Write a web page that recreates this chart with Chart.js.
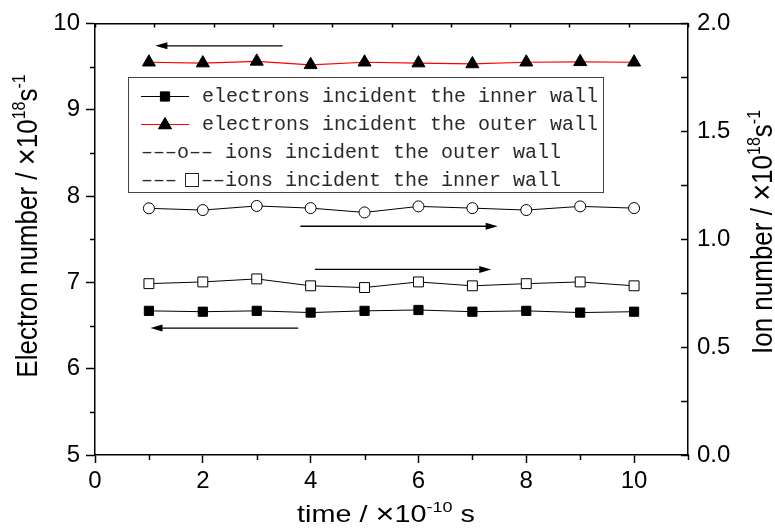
<!DOCTYPE html>
<html><head><meta charset="utf-8">
<script src="https://cdn.jsdelivr.net/npm/chart.js@4.4.1/dist/chart.umd.min.js"></script>
<style>html,body{margin:0;padding:0;background:#fff;}</style>
</head><body>
<canvas id="c" width="775" height="529"></canvas>
<script>
// ---- data ----
const time = [1, 2, 3, 4, 5, 6, 7, 8, 9, 10];
const electronsInner = [6.67, 6.66, 6.67, 6.65, 6.67, 6.68, 6.66, 6.67, 6.65, 6.66];   // left axis
const electronsOuter = [9.55, 9.54, 9.56, 9.52, 9.55, 9.54, 9.53, 9.55, 9.555, 9.55];  // left axis
const ionsOuter = [1.143, 1.135, 1.154, 1.144, 1.124, 1.152, 1.144, 1.135, 1.152, 1.144]; // right axis
const ionsInner = [0.794, 0.802, 0.816, 0.784, 0.776, 0.802, 0.784, 0.794, 0.802, 0.784]; // right axis
const xTickLabels = ['0', '2', '4', '6', '8', '10'];
const yTickLabels = ['5', '6', '7', '8', '9', '10'];
const y2TickLabels = ['0.0', '0.5', '1.0', '1.5', '2.0'];
const legendLabels = ['electrons incident the inner wall', 'electrons incident the outer wall',
                      'ions incident the outer wall', 'ions incident the inner wall'];
// annotation arrows (data units): tail x, head x, level on left axis
const arrowFrom = [3.48, 3.81, 4.08, 3.77];
const arrowTo = [1.12, 7.47, 7.35, 1.03];
const arrowLevel = [9.74, 7.65, 7.15, 6.47];

const FONT = '"Liberation Sans", Arial, sans-serif';
const MONO = '"Liberation Mono", "Courier New", monospace';

function drawRich(ctx, segs, x, y, align, size) {
  // segs: [text, kind] kind 0 normal, 1 superscript, 2 cross
  const fonts = [size + 'px ' + FONT, Math.round(size * 0.62) + 'px ' + FONT, Math.round(size * 1.12) + 'px ' + FONT];
  const offs = [0, -Math.round(size * 0.42), 1];
  let total = 0;
  segs.forEach(s => { ctx.font = fonts[s[1]]; total += ctx.measureText(s[0]).width; });
  let cx = align === 'center' ? x - total / 2 : x;
  ctx.textAlign = 'left';
  ctx.textBaseline = 'alphabetic';
  segs.forEach(s => {
    ctx.font = fonts[s[1]];
    ctx.fillText(s[0], cx, y + offs[s[1]]);
    cx += ctx.measureText(s[0]).width;
  });
}

const extras = {
  id: 'extras',
  afterDraw(chart) {
    const ctx = chart.ctx;
    const {x, y, y2, xTop} = chart.scales;
    const area = chart.chartArea;
    ctx.save();
    ctx.strokeStyle = '#000';
    ctx.fillStyle = '#000';
    ctx.lineWidth = 1.5;
    // minor ticks (outward) on left / bottom
    ctx.beginPath();
    y.ticks.forEach(t => {
      if (!yTickLabels.includes(String(t.value))) {
        const py = Math.round(y.getPixelForValue(t.value)) + 0.5;
        ctx.moveTo(area.left, py); ctx.lineTo(area.left - 5, py);
      }
    });
    x.ticks.forEach(t => {
      if (!xTickLabels.includes(String(t.value))) {
        const px = Math.round(x.getPixelForValue(t.value)) + 0.5;
        ctx.moveTo(px, area.bottom); ctx.lineTo(px, area.bottom + 5);
      }
    });
    // inward ticks on right and top
    y2.ticks.forEach(t => {
      const py = Math.round(y2.getPixelForValue(t.value)) + 0.5;
      ctx.moveTo(area.right, py); ctx.lineTo(area.right - 7, py);
    });
    xTop.ticks.forEach(t => {
      const px = Math.round(xTop.getPixelForValue(t.value)) + 0.5;
      ctx.moveTo(px, area.top); ctx.lineTo(px, area.top + 4);
    });
    ctx.stroke();

    // arrows
    ctx.lineWidth = 1.3;
    for (let i = 0; i < arrowFrom.length; i++) {
      const x1 = x.getPixelForValue(arrowFrom[i]);
      const x2 = x.getPixelForValue(arrowTo[i]);
      const py = y.getPixelForValue(arrowLevel[i]);
      const dir = x2 > x1 ? 1 : -1;
      ctx.beginPath();
      ctx.moveTo(x1, py); ctx.lineTo(x2 - dir * 8, py);
      ctx.stroke();
      ctx.beginPath();
      ctx.moveTo(x2, py);
      ctx.lineTo(x2 - dir * 12, py - 3.5);
      ctx.lineTo(x2 - dir * 12, py + 3.5);
      ctx.closePath();
      ctx.fill();
    }

    // legend box
    ctx.lineWidth = 1;
    ctx.strokeStyle = '#444';
    ctx.strokeRect(128.5, 77.5, 475, 115);
    const rows = [96, 124, 152, 180];
    const H = Chart.helpers;
    // row 1
    ctx.strokeStyle = '#000';
    ctx.beginPath(); ctx.moveTo(141, rows[0] + 0.5); ctx.lineTo(189, rows[0] + 0.5); ctx.stroke();
    ctx.fillStyle = '#000';
    H.drawPoint(ctx, {pointStyle: 'rect', radius: 6.5, rotation: 0, borderWidth: 1}, 165, rows[0] + 0.5);
    ctx.fill();
    // row 2
    ctx.strokeStyle = '#ff0000';
    ctx.beginPath(); ctx.moveTo(141, rows[1] + 0.5); ctx.lineTo(189, rows[1] + 0.5); ctx.stroke();
    ctx.strokeStyle = '#000'; ctx.fillStyle = '#000';
    H.drawPoint(ctx, {pointStyle: 'triangle', radius: 7.5, rotation: 0, borderWidth: 1}, 165, rows[1] + 1);
    ctx.fill();
    // texts
    ctx.font = '20px ' + MONO;
    ctx.fillStyle = '#2a2a2a';
    ctx.textAlign = 'left';
    ctx.textBaseline = 'middle';
    const cw = ctx.measureText('e').width;
    ctx.fillText(legendLabels[0], 202, rows[0] + 1);
    ctx.fillText(legendLabels[1], 202, rows[1] + 1);
    ctx.fillText('\u2013\u2013\u2013o\u2013\u2013 ' + legendLabels[2], 141, rows[2] + 1);
    ctx.fillText('\u2013\u2013\u2013', 141, rows[3] + 1);
    ctx.strokeStyle = '#222';
    ctx.lineWidth = 1;
    ctx.strokeRect(185.5, rows[3] - 6.5, 13, 13);
    ctx.fillText('\u2013\u2013' + legendLabels[3], 141 + 5 * cw, rows[3] + 1);

    // axis titles (reference text is slightly stretched across its baseline direction)
    ctx.fillStyle = '#000';
    ctx.save();
    ctx.translate(386, 522);
    ctx.scale(1.2, 1);
    drawRich(ctx, [['time / ', 0], ['×', 2], ['10', 0], ['-10', 1], [' s', 0]], 0, 0, 'center', 24);
    ctx.restore();
    ctx.save();
    ctx.translate(37, 226);
    ctx.rotate(-Math.PI / 2);
    ctx.scale(1, 1.12);
    drawRich(ctx, [['Electron number / ', 0], ['×', 2], ['10', 0], ['18', 1], ['s', 0], ['-1', 1]], 0, 0, 'center', 26);
    ctx.restore();
    ctx.save();
    ctx.translate(772, 232);
    ctx.rotate(-Math.PI / 2);
    ctx.scale(1, 1.12);
    drawRich(ctx, [['Ion number / ', 0], ['×', 2], ['10', 0], ['18', 1], ['s', 0], ['-1', 1]], 0, 0, 'center', 26);
    ctx.restore();
    ctx.restore();
  }
};

const tickFont = {family: FONT, size: 24};
new Chart(document.getElementById('c'), {
  type: 'line',
  data: {
    labels: time,
    datasets: [
      {label: legendLabels[0], data: time.map((t, i) => ({x: t, y: electronsInner[i]})), yAxisID: 'y',
       borderColor: '#000', borderWidth: 1, pointStyle: 'rect', pointRadius: 6.5,
       pointBackgroundColor: '#000', pointBorderColor: '#000', pointBorderWidth: 1},
      {label: legendLabels[1], data: time.map((t, i) => ({x: t, y: electronsOuter[i]})), yAxisID: 'y',
       borderColor: '#ff0000', borderWidth: 1.2, pointStyle: 'triangle', pointRadius: 7.5,
       pointBackgroundColor: '#000', pointBorderColor: '#000', pointBorderWidth: 1},
      {label: legendLabels[2], data: time.map((t, i) => ({x: t, y: ionsOuter[i]})), yAxisID: 'y2',
       borderColor: '#000', borderWidth: 1, pointStyle: 'circle', pointRadius: 5.5,
       pointBackgroundColor: '#fff', pointBorderColor: '#000', pointBorderWidth: 1},
      {label: legendLabels[3], data: time.map((t, i) => ({x: t, y: ionsInner[i]})), yAxisID: 'y2',
       borderColor: '#000', borderWidth: 1, pointStyle: 'rect', pointRadius: 7,
       pointBackgroundColor: '#fff', pointBorderColor: '#000', pointBorderWidth: 1}
    ]
  },
  options: {
    responsive: false,
    animation: false,
    devicePixelRatio: 1,
    layout: {padding: 0},
    plugins: {legend: {display: false}, tooltip: {enabled: false}},
    elements: {line: {tension: 0}},
    scales: {
      x: {type: 'linear', position: 'bottom', min: 0, max: 11,
          afterFit: s => { s.height = 74; },
          ticks: {stepSize: 1, autoSkip: false, maxRotation: 0, color: '#000', font: tickFont, padding: 4,
                  callback: v => xTickLabels.includes(String(v)) ? String(v) : ''},
          grid: {drawOnChartArea: false, drawTicks: true, tickLength: 8, tickWidth: 1.5,
                 tickColor: c => xTickLabels.includes(String(c.tick && c.tick.value)) ? '#000' : 'rgba(0,0,0,0)'},
          border: {display: true, color: '#000', width: 1.5}},
      xTop: {type: 'linear', position: 'top', min: 0, max: 10,
          afterFit: s => { s.height = 20; },
          ticks: {display: false, stepSize: 1},
          grid: {drawOnChartArea: false, drawTicks: false},
          border: {display: true, color: '#000', width: 1.5}},
      y: {type: 'linear', position: 'left', min: 5, max: 10,
          afterFit: s => { s.width = 95; },
          ticks: {stepSize: 0.5, autoSkip: false, color: '#000', font: tickFont, padding: 6,
                  callback: v => yTickLabels.includes(String(v)) ? String(v) : ''},
          grid: {drawOnChartArea: false, drawTicks: true, tickLength: 9, tickWidth: 1.5,
                 tickColor: c => yTickLabels.includes(String(c.tick && c.tick.value)) ? '#000' : 'rgba(0,0,0,0)'},
          border: {display: true, color: '#000', width: 1.5}},
      y2: {type: 'linear', position: 'right', min: 0, max: 2,
          afterFit: s => { s.width = 87; },
          ticks: {stepSize: 0.25, autoSkip: false, color: '#000', font: tickFont, padding: 9,
                  callback: v => { const l = Number(v).toFixed(1); return (y2TickLabels.includes(l) && Math.abs(v * 2 - Math.round(v * 2)) < 1e-9) ? l : ''; }},
          grid: {drawOnChartArea: false, drawTicks: false},
          border: {display: true, color: '#000', width: 1.5}}
    }
  },
  plugins: [extras]
});
</script>
</body></html>
